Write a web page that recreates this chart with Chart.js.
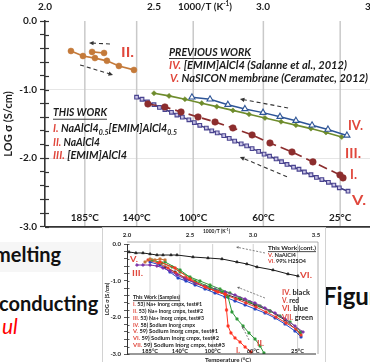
<!DOCTYPE html>
<html>
<head>
<meta charset="utf-8">
<script src="https://cdn.jsdelivr.net/npm/chart.js@4.4.0/dist/chart.umd.min.js"></script>
<style>
html, body { margin: 0; padding: 0; background: #fff; width: 370px; height: 362px; overflow: hidden; position: relative; }
#main { position: absolute; left: 0; top: 0; }
#inset { position: absolute; left: 102px; top: 227px; }
.slide { position: absolute; font-family: Lato; font-weight: bold; color: #111; white-space: nowrap; line-height: 1; }
</style>
</head>
<body>
<div style="position:absolute;left:0;top:242px;width:102px;height:30px;background:#f6f6f6"></div>
<div class="slide" style="left:-6px;top:244px;font-size:20px">melting</div>
<div class="slide" style="left:-1px;top:293px;font-size:20px">conducting</div>
<div class="slide" style="left:2px;top:315px;font-size:21px;font-weight:normal;font-style:italic;color:#ff0000">ul</div>
<div class="slide" style="left:323px;top:284px;font-size:24px">Figur</div>
<canvas id="main" width="385" height="232"></canvas>
<canvas id="inset" width="224" height="136"></canvas>
<script>
// ---- main chart data (x = 1000/T, y = log sigma) ----
const topTicks = [2.0, 2.5, 3.0, 3.5];
const tempTicks = [185, 140, 100, 60, 25];

// II. NaAlCl4 (heating and short cooling run)
const naAlX = [2.119, 2.174, 2.229, 2.284, 2.339, 2.408];
const naAlY = [-0.437, -0.51, -0.54, -0.58, -0.655, -0.713];
const naAlCoolX = [2.216, 2.271];
const naAlCoolY = [-0.45, -0.466];

// I. NaAlCl4 0.5 [EMIM]AlCl4 0.5
const mixX = [2.472, 2.55, 2.624, 2.702, 2.78, 2.862, 2.95, 3.032, 3.133, 3.229, 3.353, 3.367];
const mixY = [-1.209, -1.252, -1.325, -1.398, -1.471, -1.558, -1.66, -1.777, -1.908, -2.053, -2.243, -2.286];

// III. [EMIM]AlCl4 (green)
const emimX = [2.5, 2.569, 2.642, 2.719, 2.788, 2.862, 2.936, 3.009, 3.083, 3.151, 3.22, 3.289, 3.361];
const emimY = [-1.053, -1.092, -1.14, -1.198, -1.248, -1.303, -1.359, -1.413, -1.468, -1.518, -1.567, -1.624, -1.69];

// IV. [EMIM]AlCl4 (Salanne et al., 2012)
const salanneX = [2.674, 2.757, 2.839, 2.917, 3.0, 3.078, 3.151, 3.225, 3.298, 3.385];
const salanneY = [-1.111, -1.14, -1.219, -1.281, -1.335, -1.394, -1.452, -1.52, -1.58, -1.667];

// V. NaSICON membrane (Ceramatec, 2012)
const nasiconX = [2.42, 2.445, 2.47, 2.50, 2.525, 2.55, 2.58, 2.605, 2.63, 2.66, 2.685, 2.71, 2.74, 2.765, 2.79, 2.82, 2.845, 2.87, 2.90, 2.925, 2.95, 2.98, 3.005, 3.03, 3.06, 3.085, 3.11, 3.14, 3.165, 3.19, 3.22, 3.245, 3.27, 3.30, 3.325, 3.35, 3.39];
const nasiconY = [-1.11, -1.14, -1.18, -1.22, -1.26, -1.29, -1.33, -1.37, -1.40, -1.44, -1.48, -1.52, -1.56, -1.60, -1.63, -1.67, -1.71, -1.75, -1.79, -1.82, -1.86, -1.90, -1.94, -1.97, -2.01, -2.05, -2.09, -2.13, -2.16, -2.20, -2.24, -2.28, -2.31, -2.35, -2.39, -2.43, -2.48];

// dashed direction arrows [x tail, y tail, x head, y head]
const mainArrows = [
    [2.298, -0.335, 2.202, -0.32],
    [2.161, -0.64, 2.312, -0.786],
    [3.115, -1.267, 2.894, -1.136],
    [3.11, -2.27, 2.894, -1.98]
];

// ---- inset data ----
const h2so4X = [2.016, 2.071, 2.127, 2.183, 2.238, 2.286, 2.349, 2.397, 2.524, 2.643, 2.754, 2.873, 2.952, 3.032, 3.159, 3.278, 3.357];
const h2so4Y = [-0.218, -0.245, -0.245, -0.273, -0.3, -0.3, -0.3, -0.3, -0.355, -0.382, -0.409, -0.491, -0.545, -0.627, -0.709, -0.818, -0.873];
const insNaAlX = [2.143, 2.183, 2.222, 2.262, 2.302];
const insNaAlY = [-0.491, -0.409, -0.436, -0.409, -0.436];
const test3X = [2.079, 2.127, 2.183, 2.238, 2.286, 2.341, 2.397, 2.46, 2.54, 2.619, 2.698, 2.778, 2.857, 2.937, 3.016, 3.095, 3.175, 3.254, 3.333, 3.397];
const test3Y = [-0.573, -0.573, -0.573, -0.6, -0.654, -0.736, -0.845, -0.954, -1.064, -1.145, -1.227, -1.309, -1.391, -1.5, -1.609, -1.745, -1.882, -2.045, -2.236, -2.4];
const blueX = [2.183, 2.262, 2.341, 2.405, 2.468, 2.54, 2.619, 2.698, 2.778, 2.857, 2.937, 3.016, 3.095, 3.175, 3.254, 3.333, 3.381];
const blueY = [-0.491, -0.573, -0.764, -0.927, -1.009, -1.118, -1.227, -1.336, -1.445, -1.554, -1.663, -1.773, -1.882, -2.018, -2.182, -2.373, -2.536];
const redX = [2.167, 2.246, 2.325, 2.389, 2.468, 2.548, 2.627, 2.706, 2.786, 2.865, 2.944, 3.024, 3.103, 3.183, 3.262, 3.341, 3.381];
const redY = [-0.436, -0.518, -0.654, -0.791, -0.927, -1.064, -1.173, -1.282, -1.391, -1.5, -1.609, -1.718, -1.854, -1.991, -2.154, -2.318, -2.482];
const greenX = [2.198, 2.278, 2.357, 2.421, 2.5, 2.579, 2.659, 2.738, 2.817, 2.897, 2.976, 3.056, 3.135, 3.214, 3.294, 3.381];
const greenY = [-0.436, -0.518, -0.627, -0.764, -0.9, -1.009, -1.118, -1.227, -1.336, -1.473, -1.582, -1.691, -1.827, -1.963, -2.127, -2.4];
const blackX = [2.302, 2.381, 2.46, 2.54, 2.659, 2.778, 2.897, 3.016, 3.135, 3.254, 3.373];
const blackY = [-0.627, -0.764, -0.927, -1.064, -1.227, -1.364, -1.5, -1.663, -1.827, -2.073, -2.427];
const test1X = [2.262, 2.381, 2.5, 2.619, 2.722, 2.778, 2.79, 2.802, 2.825, 2.857, 2.897, 2.937, 2.984];
const test1Y = [-0.491, -0.654, -0.954, -1.173, -1.309, -1.364, -1.8, -2.236, -2.427, -2.563, -2.673, -2.809, -2.945];
const test2X = [2.302, 2.421, 2.54, 2.659, 2.754, 2.802, 2.833, 2.873, 2.921, 2.968, 3.016, 3.056, 3.087];
const test2Y = [-0.491, -0.709, -1.009, -1.173, -1.309, -1.445, -1.854, -2.045, -2.236, -2.427, -2.591, -2.782, -2.973];
const insetArrows = [
    [3.095, -0.245, 2.865, -0.082],
    [3.095, -1.473, 2.873, -1.173],
    [2.968, -2.618, 2.913, -2.236]
];

const RED = '#e0473c';
const INK = '#1c1c1c';
Chart.defaults.font.family = 'Lato';

const isInt = v => Math.abs(v - Math.round(v)) < 1e-6;
const invT = t => 1000 / (t + 273.15);
const pts = (xs, ys) => xs.map((x, i) => ({ x: x, y: ys[i] }));
const noPad = s => { s.paddingTop = 0; s.paddingBottom = 0; s.paddingLeft = 0; s.paddingRight = 0; };

// draws a row of coloured text runs, squeezed to a target width
function drawRuns(ctx, runs, x, y, opt) {
    ctx.save();
    ctx.textBaseline = 'middle';
    ctx.textAlign = 'left';
    const fontFor = r => `${opt.style || ''} bold ${(r.sub || r.sup) ? opt.size * 0.65 : opt.size}px Lato`;
    let w = 0;
    runs.forEach(r => { ctx.font = fontFor(r); w += ctx.measureText(r.t).width; });
    const k = opt.width ? opt.width / w : 1;
    ctx.translate(x, y);
    ctx.scale(k, 1);
    let cx = 0;
    runs.forEach(r => {
        ctx.font = fontFor(r);
        ctx.fillStyle = r.c || opt.color || INK;
        const dy = r.sub ? opt.size * 0.32 : (r.sup ? -opt.size * 0.3 : 0);
        ctx.fillText(r.t, cx, dy);
        cx += ctx.measureText(r.t).width;
    });
    if (opt.underline) {
        ctx.fillStyle = opt.color || INK;
        ctx.fillRect(0, opt.size * 0.55, cx, Math.max(0.8, opt.size * 0.08));
    }
    ctx.restore();
}

function drawArrow(ctx, x, y, a, color, lw, dash, head) {
    const x1 = x.getPixelForValue(a[0]), y1 = y.getPixelForValue(a[1]);
    const x2 = x.getPixelForValue(a[2]), y2 = y.getPixelForValue(a[3]);
    const ang = Math.atan2(y2 - y1, x2 - x1);
    ctx.save();
    ctx.strokeStyle = color;
    ctx.fillStyle = color;
    ctx.lineWidth = lw;
    ctx.setLineDash(dash);
    ctx.beginPath();
    ctx.moveTo(x1, y1);
    ctx.lineTo(x2 - Math.cos(ang) * head * 0.8, y2 - Math.sin(ang) * head * 0.8);
    ctx.stroke();
    ctx.setLineDash([]);
    ctx.beginPath();
    ctx.moveTo(x2, y2);
    ctx.lineTo(x2 - Math.cos(ang - 0.45) * head, y2 - Math.sin(ang - 0.45) * head);
    ctx.lineTo(x2 - Math.cos(ang + 0.45) * head, y2 - Math.sin(ang + 0.45) * head);
    ctx.closePath();
    ctx.fill();
    ctx.restore();
}

function axisDecor(chart, o) {
    const { ctx, chartArea: a, scales: { x, y } } = chart;
    ctx.save();
    // inner half of the y ticks
    ctx.strokeStyle = o.axis;
    ctx.lineWidth = o.tickW;
    y.ticks.forEach(t => {
        const py = Math.round(y.getPixelForValue(t.value)) + 0.5;
        ctx.beginPath();
        ctx.moveTo(a.left, py);
        ctx.lineTo(a.left + o.inTick, py);
        ctx.stroke();
    });
    // bottom axis line
    ctx.lineWidth = o.axisW;
    ctx.beginPath();
    ctx.moveTo(a.left, a.bottom);
    ctx.lineTo(a.right, a.bottom);
    ctx.stroke();
    // temperature labels
    ctx.fillStyle = INK;
    ctx.font = `bold ${o.tempSize}px Lato`;
    ctx.textAlign = 'center';
    ctx.textBaseline = 'middle';
    tempTicks.forEach(t => ctx.fillText(t + '°C', x.getPixelForValue(invT(t)), a.bottom - o.tempOff));
    ctx.restore();
}

function tempGrid(chart, color, lw) {
    const { ctx, chartArea: a, scales: { x } } = chart;
    ctx.save();
    ctx.strokeStyle = color;
    ctx.lineWidth = lw;
    tempTicks.forEach(t => {
        const px = x.getPixelForValue(invT(t));
        ctx.beginPath();
        ctx.moveTo(px, a.top);
        ctx.lineTo(px, a.bottom);
        ctx.stroke();
    });
    ctx.restore();
}

const mainDecor = {
    id: 'mainDecor',
    beforeDatasetsDraw(chart) { tempGrid(chart, '#c9c9c9', 1.5); },
    afterDraw(chart) {
        const { ctx, scales: { x, y } } = chart;
        axisDecor(chart, { axis: '#333', tickW: 1.2, inTick: 4, axisW: 1.6, tempSize: 10, tempOff: 9 });
        mainArrows.forEach(a => drawArrow(ctx, x, y, a, '#333', 1.1, [4, 3], 5));

        drawRuns(ctx, [{ t: '1000/T (K' }, { t: '-1', sup: true }, { t: ')' }], 178, 7, { size: 10, width: 54 });

        const bi = { size: 10.5, style: 'italic' };
        drawRuns(ctx, [{ t: 'PREVIOUS WORK' }], 169, 52, { ...bi, size: 11, width: 82, underline: true });
        drawRuns(ctx, [{ t: 'IV. ', c: RED }, { t: '[EMIM]AlCl4 (Salanne et al., 2012)' }], 169, 66, { ...bi, width: 178 });
        drawRuns(ctx, [{ t: 'V. ', c: RED }, { t: 'NaSICON membrane (Ceramatec, 2012)' }], 170, 79, { ...bi, width: 198 });
        drawRuns(ctx, [{ t: 'THIS WORK' }], 53, 113, { ...bi, width: 54, underline: true });
        drawRuns(ctx, [{ t: 'I. ', c: RED }, { t: 'NaAlCl4' }, { t: '0.5', sub: true }, { t: '[EMIM]AlCl4' }, { t: '0.5', sub: true }], 53, 129, { ...bi, width: 124 });
        drawRuns(ctx, [{ t: 'II. ', c: RED }, { t: 'NaAlCl4' }], 53, 143, { ...bi, width: 47 });
        drawRuns(ctx, [{ t: 'III. ', c: RED }, { t: '[EMIM]AlCl4' }], 53, 156, { ...bi, width: 74 });

        const big = { size: 14, color: RED };
        drawRuns(ctx, [{ t: 'II.' }], 121, 52, { ...big, width: 13 });
        drawRuns(ctx, [{ t: 'IV.' }], 348, 125, { ...big, width: 15 });
        drawRuns(ctx, [{ t: 'III.' }], 345, 153, { ...big, width: 16 });
        drawRuns(ctx, [{ t: 'I.' }], 350, 174, { ...big, width: 7 });
        drawRuns(ctx, [{ t: 'V.' }], 352, 200, { ...big, width: 14 });
    }
};

new Chart(document.getElementById('main'), {
    type: 'scatter',
    data: {
        datasets: [
            { data: pts(naAlX, naAlY), showLine: true, borderColor: '#c47a3a', backgroundColor: '#c47a3a', borderWidth: 1.7, pointBorderWidth: 0.5, pointRadius: 3, pointStyle: 'circle', order: 1 },
            { data: pts(naAlCoolX, naAlCoolY), showLine: true, borderColor: '#c47a3a', backgroundColor: '#c47a3a', borderWidth: 1.7, pointBorderWidth: 0.5, pointRadius: 3, pointStyle: 'circle', order: 1 },
            { data: pts(mixX, mixY), showLine: true, borderColor: '#8c2d2d', backgroundColor: '#8c2d2d', borderWidth: 1.7, borderDash: [9, 5], pointBorderWidth: 0.5, pointRadius: 3.3, pointStyle: 'circle', order: 2 },
            { data: pts(salanneX, salanneY), showLine: true, borderColor: '#2e5597', backgroundColor: '#ffffff', borderWidth: 1.5, pointBorderWidth: 1.1, pointRadius: 3.5, pointStyle: 'triangle', order: 3 },
            { data: pts(emimX, emimY), showLine: true, borderColor: '#6e8c2c', backgroundColor: '#6e8c2c', borderWidth: 1.7, pointBorderWidth: 0.5, pointRadius: 2.6, pointStyle: 'rectRot', order: 4 },
            { data: pts(nasiconX, nasiconY), showLine: true, borderColor: '#3e3a80', backgroundColor: '#c7c2e4', pointBorderColor: '#4a4490', borderWidth: 1.5, pointBorderWidth: 1.1, pointRadius: 2.6, pointStyle: 'rect', order: 5 }
        ]
    },
    options: {
        responsive: false,
        animation: false,
        devicePixelRatio: 1,
        layout: { padding: { left: 0, right: 13, top: 0, bottom: 5 } },
        plugins: { legend: { display: false }, tooltip: { enabled: false } },
        scales: {
            x: {
                type: 'linear', position: 'top', min: 2, max: 3.5,
                afterBuildTicks: s => { s.ticks = topTicks.map(v => ({ value: v })); },
                ticks: { callback: v => v.toFixed(1), font: { weight: 'bold', size: 10 }, color: INK, padding: 8, maxRotation: 0, autoSkip: false },
                grid: { display: false, drawTicks: false },
                border: { display: false },
                afterFit: s => { s.height = 21; noPad(s); }
            },
            y: {
                min: -3, max: 0,
                ticks: { stepSize: 0.2, autoSkip: false, callback: v => isInt(v) ? v.toFixed(1) : '', font: { weight: 'bold', size: 10 }, color: INK, padding: 3 },
                grid: {
                    color: c => (isInt(c.tick.value) && c.tick.value > -2.99 && c.tick.value < -0.01) ? '#e6e6e6' : 'rgba(0,0,0,0)',
                    tickColor: '#333', tickLength: 5, tickWidth: 1.2
                },
                border: { color: '#333', width: 1.6 },
                title: { display: true, text: 'LOG σ (S/cm)', font: { weight: 'bold', size: 11 }, color: INK, padding: { top: 2, bottom: 0 } },
                afterFit: s => { s.width = 45; noPad(s); }
            }
        }
    },
    plugins: [mainDecor]
});

// ---- inset ----
const insetDecor = {
    id: 'insetDecor',
    beforeDraw(chart) {
        const { ctx, width, height } = chart;
        ctx.save();
        ctx.fillStyle = '#ffffff';
        ctx.fillRect(0, 0, width, height);
        ctx.strokeStyle = '#d2d2d2';
        ctx.lineWidth = 1;
        ctx.strokeRect(0.5, 0.5, width - 1, height - 1);
        ctx.restore();
    },
    beforeDatasetsDraw(chart) {
        const { ctx, chartArea: a } = chart;
        tempGrid(chart, '#d0d0d0', 1);
        ctx.save();
        ctx.strokeStyle = '#9a9a9a';
        ctx.lineWidth = 0.8;
        ctx.beginPath();
        ctx.moveTo(a.left, a.top - 2);
        ctx.lineTo(a.right + 2, a.top - 2);
        ctx.lineTo(a.right + 2, a.bottom);
        ctx.stroke();
        ctx.restore();
    },
    afterDraw(chart) {
        const { ctx, scales: { x, y } } = chart;
        axisDecor(chart, { axis: '#333', tickW: 0.8, inTick: 2.5, axisW: 1, tempSize: 5.8, tempOff: 3 });
        insetArrows.forEach(a => drawArrow(ctx, x, y, a, '#666', 0.8, [2, 1.5], 3));

        drawRuns(ctx, [{ t: '1000/T (K' }, { t: '-1', sup: true }, { t: ')' }], 101, 4, { size: 5.5, width: 27 });
        drawRuns(ctx, [{ t: 'Temperature (°C)' }], 103, 133, { size: 6, width: 46 });

        const s = { size: 6 };
        drawRuns(ctx, [{ t: 'This Work (cont.)' }], 166, 21, { ...s, width: 48, underline: true });
        drawRuns(ctx, [{ t: 'V. ', c: RED }, { t: 'NaAlCl4' }], 166, 28, { ...s, width: 28 });
        drawRuns(ctx, [{ t: 'VI. ', c: RED }, { t: '99% H2SO4' }], 166, 34.5, { ...s, width: 38 });
        drawRuns(ctx, [{ t: 'IV. ', c: RED }, { t: 'black' }], 180, 66, { size: 6.5, width: 28 });
        drawRuns(ctx, [{ t: 'V. ', c: RED }, { t: 'red' }], 180, 74, { size: 6.5, width: 17 });
        drawRuns(ctx, [{ t: 'VI. ', c: RED }, { t: 'blue' }], 180, 82, { size: 6.5, width: 26 });
        drawRuns(ctx, [{ t: 'VII. ', c: RED }, { t: 'green' }], 180, 91, { size: 6.5, width: 31 });

        drawRuns(ctx, [{ t: 'This Work (Samples)' }], 31, 70, { ...s, width: 47, underline: true });
        const rows = [
            ['I. ', '53) Na+ Inorg cmpx, test#1', 69],
            ['II. ', '53) Na+ Inorg cmpx, test#2', 70],
            ['III. ', '53) Na+ Inorg cmpx, test#3', 71],
            ['IV. ', '58) Sodium Inorg cmpx', 62],
            ['V. ', '59) Sodium Inorg cmpx, test#1', 85],
            ['VI. ', '59) Sodium Inorg cmpx, test#2', 86],
            ['VII. ', '59) Sodium Inorg cmpx, test#3', 92]
        ];
        rows.forEach((r, i) => drawRuns(ctx, [{ t: r[0], c: RED }, { t: r[1] }], 31, 77.5 + i * 6.7, { ...s, width: r[2] }));

        const big = { size: 8, color: RED };
        drawRuns(ctx, [{ t: 'VI.' }], 198, 48, { ...big, width: 12 });
        drawRuns(ctx, [{ t: 'V.' }], 28, 32, { ...big, width: 8 });
        drawRuns(ctx, [{ t: 'III.' }], 30, 46, { ...big, width: 11 });
        drawRuns(ctx, [{ t: 'II.' }], 155, 117, { ...big, size: 7, width: 7 });
        drawRuns(ctx, [{ t: 'I.' }], 134, 124, { ...big, size: 7, width: 4 });
    }
};

const insetLine = (xs, ys, color, style, order, fill) => ({
    data: pts(xs, ys), showLine: true, borderColor: color, backgroundColor: fill || color,
    borderWidth: 1, pointRadius: style === 'circle' ? 1.3 : 1.6, pointBorderWidth: 0.6, pointStyle: style, order: order
});

new Chart(document.getElementById('inset'), {
    type: 'scatter',
    data: {
        datasets: [
            insetLine(h2so4X, h2so4Y, '#1a1a1a', 'triangle', 1),
            insetLine(insNaAlX, insNaAlY, '#c8763a', 'rect', 2),
            insetLine(test3X, test3Y, '#7b2fa8', 'rectRot', 3),
            insetLine(greenX, greenY, '#3a9c3a', 'rect', 4),
            insetLine(redX, redY, '#f03c2e', 'rect', 5),
            insetLine(blackX, blackY, '#333333', 'circle', 6),
            insetLine(blueX, blueY, '#2346c8', 'rect', 7),
            insetLine(test1X, test1Y, '#ff3322', 'rect', 2),
            insetLine(test2X, test2Y, '#2f9a3a', 'rect', 2)
        ]
    },
    options: {
        responsive: false,
        animation: false,
        devicePixelRatio: 1,
        layout: { padding: { left: 0, right: 10, top: 0, bottom: 9 } },
        plugins: { legend: { display: false }, tooltip: { enabled: false } },
        scales: {
            x: {
                type: 'linear', position: 'top', min: 2, max: 3.5,
                afterBuildTicks: s => { s.ticks = topTicks.map(v => ({ value: v })); },
                ticks: { callback: v => v.toFixed(1), font: { weight: 'bold', size: 6 }, color: INK, padding: 5, maxRotation: 0, autoSkip: false },
                grid: { display: false, drawTicks: false },
                border: { display: false },
                afterFit: s => { s.height = 17; noPad(s); }
            },
            y: {
                min: -3, max: 0,
                ticks: { stepSize: 0.2, autoSkip: false, callback: v => isInt(v) ? v.toFixed(1) : '', font: { weight: 'bold', size: 6 }, color: INK, padding: 3 },
                grid: { color: 'rgba(0,0,0,0)', tickColor: '#333', tickLength: 3, tickWidth: 0.8 },
                border: { color: '#333', width: 1 },
                title: { display: true, text: 'LOG σ (S/cm)', font: { weight: 'bold', size: 5.5 }, color: INK, padding: { top: 1.5, bottom: 0 } },
                afterFit: s => { s.width = 25; noPad(s); }
            }
        }
    },
    plugins: [insetDecor]
});
</script>
</body>
</html>
